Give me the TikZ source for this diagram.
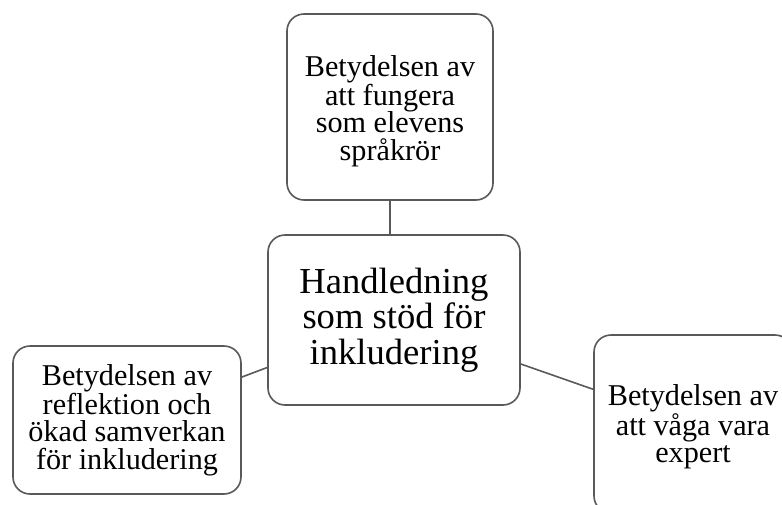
\documentclass[tikz,border=0pt]{standalone}
\usepackage{fontspec}
\setmainfont{Liberation Serif}
\definecolor{linegray}{HTML}{595959}
\begin{document}
\begin{tikzpicture}[x=1pt,y=-1pt,
  box/.style={draw=linegray, line width=1.6pt, rounded corners=17pt, fill=white, align=center, inner sep=0pt},
  small/.style={font=\fontsize{30.2}{27.6}\selectfont},
  big/.style={font=\fontsize{36.6}{35.5}\selectfont},
  conn/.style={draw=linegray, line width=1.6pt}]
\useasboundingbox (0,0) rectangle (782,504);
\clip (0,0) rectangle (782,504);
\node[box, minimum width=206pt, minimum height=186pt] (top) at (390,107) {};
\node[small, align=center] (toptext) at (390,111) {Betydelsen av\\att fungera\\som elevens\\språkrör};
\node[box, big, minimum width=252pt, minimum height=170pt] (mid) at (394,320) {Handledning\\som stöd för\\inkludering};
\node[box, small, minimum width=228pt, minimum height=148pt] (left) at (127,420) {Betydelsen av\\reflektion och\\ökad samverkan\\för inkludering};
\node[box, minimum width=198pt, minimum height=178pt] (right) at (693,424) {};
\node[small, align=center] (righttext) at (693,427) {Betydelsen av\\att våga vara\\expert};
\draw[conn] (mid.north -| top.south) -- (top.south);
\draw[conn] (mid) -- (left);
\draw[conn] (mid) -- (right);
\end{tikzpicture}
\end{document}
